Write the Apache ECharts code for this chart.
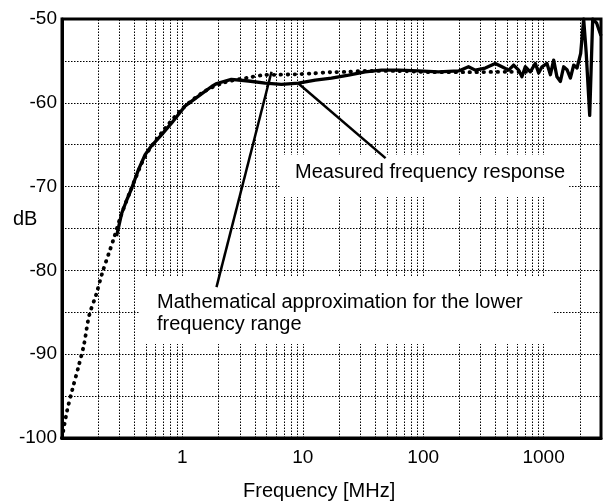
<!DOCTYPE html>
<html>
<head>
<meta charset="utf-8">
<script src="https://cdn.jsdelivr.net/npm/echarts@6/dist/echarts.min.js"></script>
<style>html,body{margin:0;padding:0;background:#fff;}#chart{width:604px;height:504px;}</style>
</head>
<body>
<div id="chart"></div>
<script>
// Measured frequency response [MHz, dB]
const measured = [
  [0.284,-75.9],[0.313,-73.2],[0.345,-71.6],[0.379,-70.2],[0.431,-68.0],[0.490,-66.2],
  [0.556,-65.1],[0.673,-63.8],[0.815,-62.4],[1.05,-60.4],[1.36,-59.2],[1.75,-58.05],
  [1.93,-57.7],[2.55,-57.2],[3.54,-57.4],[4.87,-57.65],[6.65,-57.8],[9.21,-57.65],
  [12.7,-57.3],[17.3,-57.05],[24,-56.7],[33,-56.3],[45,-56.1],[62.5,-56.1],[91.6,-56.2],
  [134,-56.3],[197,-56.2],[238,-55.7],[271,-56.1],[328,-55.85],[397,-55.3],[451,-55.7],
  [513,-56.1],[564,-55.5],[621,-56.1],[661,-56.9],[705,-55.7],[776,-56.3],[855,-55.3],
  [910,-56.45],[970,-55.7],[1067,-55.3],[1140,-56.65],[1213,-54.9],[1292,-56.9],
  [1380,-57.45],[1469,-55.7],[1566,-56.05],[1671,-57.05],[1779,-55.5],[1897,-55.85],
  [2034,-54.1],[2153,-50],[2260,-54],[2417,-61.5],[2559,-50],[2763,-50.5],[3000,-52]
];
// Mathematical approximation for the lower frequency range [MHz, dB]
const approximation = [
  [0.1,-100],[0.11,-96.8],[0.122,-94.2],[0.137,-91.5],[0.152,-88.9],[0.168,-85.4],
  [0.192,-82.9],[0.216,-80.3],[0.247,-77.8],[0.272,-76.0],[0.31,-73.4],[0.38,-70.1],
  [0.49,-66.4],[0.67,-63.6],[1.0,-60.7],[1.5,-58.7],[2.2,-57.6],[3.5,-57.0],[4.7,-56.7],
  [6.3,-56.65],[8.6,-56.6],[12,-56.5],[17,-56.35],[24,-56.3],[33,-56.2],[60,-56.2],
  [120,-56.35],[240,-56.35],[500,-56.3],[800,-56.3]
];
// vertical grid lines (MHz)
const gridX = [0.2,0.3,0.4,0.5,0.6,0.7,0.8,0.9,1,2,3,4,5,6,7,8,9,10,20,30,40,50,60,70,80,90,
  100,200,300,400,500,600,700,800,900,1000,2000];
const xTickLabels = [1,10,100,1000];
const yTickLabels = [-50,-60,-70,-80,-90,-100];
// annotation pointer lines [[from], [to]] in data units
const pointerLines = [
  [[9.2,-57.7],[48.7,-66.6]],
  [[5.5,-56.3],[1.92,-82.0]]
];
const labelMeasured = 'Measured frequency response';
const labelApprox = 'Mathematical approximation for the lower\nfrequency range';

const FONT = '"Liberation Sans", Arial, Helvetica, sans-serif';
const chart = echarts.init(document.getElementById('chart'), null, {renderer:'canvas'});
chart.setOption({
  animation: false,
  backgroundColor: '#fff',
  grid: {left: 62, right: 2, top: 19, bottom: 66, show: true, borderColor: '#000', borderWidth: 3, z: 0},
  xAxis: {
    type: 'log', logBase: 10, min: 0.1, max: 3000, z: 20,
    axisLine: {show: true, lineStyle: {color: '#000', width: 3}},
    axisTick: {show: false},
    splitLine: {show: false},
    axisLabel: {
      color: '#000', fontSize: 19, fontFamily: FONT, margin: 10,
      formatter: v => { const r = Math.round(v); return (xTickLabels.indexOf(r) >= 0 && Math.abs(v - r) < 1e-6) ? String(r) : ''; }
    }
  },
  yAxis: {
    type: 'value', min: -100, max: -50, interval: 5, z: 0,
    axisLine: {show: true, lineStyle: {color: '#000', width: 3}},
    axisTick: {show: false},
    splitLine: {show: true, lineStyle: {color: '#000', width: 1, type: [1.5, 1.5]}},
    axisLabel: {
      color: '#000', fontSize: 19, fontFamily: FONT, margin: 5,
      formatter: v => yTickLabels.indexOf(Math.round(v)) >= 0 ? String(v) : ''
    }
  },
  graphic: [
    {type: 'text', left: 13, top: 209, z: 50, style: {text: 'dB', font: '20px ' + FONT, fill: '#000'}},
    {type: 'text', left: 243, top: 481, z: 50, style: {text: 'Frequency [MHz]', font: '20px ' + FONT, fill: '#000'}},
    {type: 'text', left: 281, top: 155, z: 3,
      style: {text: labelMeasured, font: '20px ' + FONT, fill: '#000', lineHeight: 22,
        backgroundColor: '#fff', padding: [6, 4, 14, 14]}},
    {type: 'text', left: 140, top: 277, z: 3,
      style: {text: labelApprox, font: '20px ' + FONT, fill: '#000', lineHeight: 22,
        backgroundColor: '#fff', padding: [14, 30, 9, 17]}}
  ],
  series: [
    {
      name: 'grid', type: 'line', data: [], z: 1, silent: true,
      markLine: {
        z: 1, silent: true, symbol: ['none', 'none'], label: {show: false}, animation: false,
        lineStyle: {color: '#000', width: 1, type: [1.5, 1.5]},
        emphasis: {disabled: true},
        data: gridX.map(v => ({xAxis: v}))
      }
    },
    {
      name: 'approx', type: 'line', data: approximation, z: 4, showSymbol: false, smooth: 0.3,
      lineStyle: {color: '#000', width: 3.8, type: [0.5, 6.5], cap: 'round'},
      emphasis: {disabled: true}
    },
    {
      name: 'measured', type: 'line', data: measured, z: 5, showSymbol: false,
      lineStyle: {color: '#000', width: 3.3, join: 'round'},
      emphasis: {disabled: true},
      markLine: {
        z: 10, silent: true, symbol: ['none', 'none'], label: {show: false}, animation: false,
        lineStyle: {color: '#000', width: 2.5, type: 'solid'},
        emphasis: {disabled: true},
        data: pointerLines.map(p => [{coord: p[0]}, {coord: p[1]}])
      }
    }
  ]
});
</script>
</body>
</html>
